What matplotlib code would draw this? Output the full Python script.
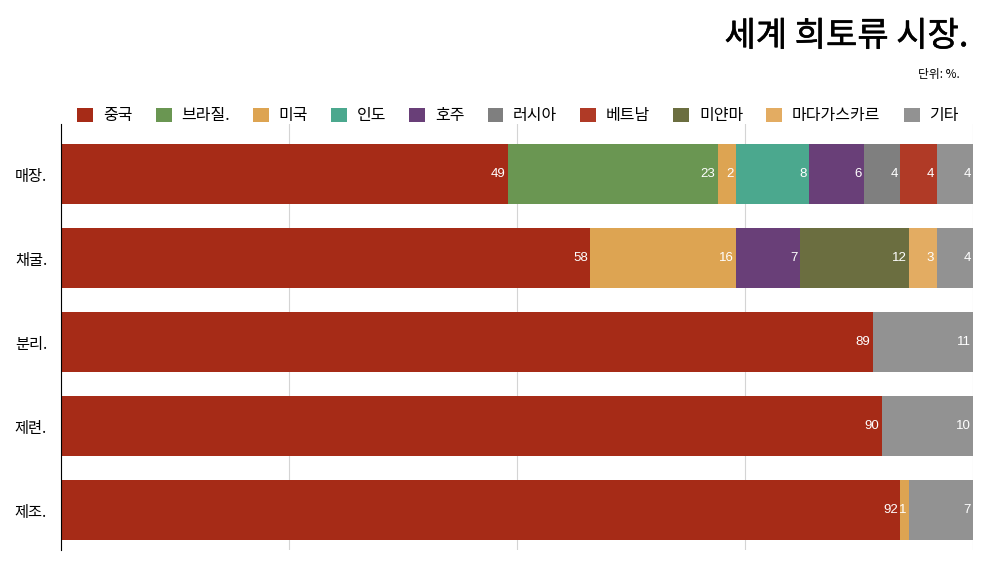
import matplotlib
matplotlib.use("Agg")
import matplotlib.pyplot as plt
import matplotlib.patheffects as pe
from matplotlib.patches import Patch

plt.rcParams['font.family'] = ['Noto Sans CJK KR', 'DejaVu Sans']

# ====== DATA ======
stages = ["매장.", "채굴.", "분리.", "제련.", "제조."]
countries = ["중국", "브라질.", "미국", "인도", "호주", "러시아", "베트남", "미얀마", "마다가스카르", "기타"]
colors = ["#A62B17", "#6A9652", "#DDA452", "#4BA88E", "#693F78",
          "#7F7F7F", "#B03A26", "#6B6E40", "#E3AC62", "#929292"]

# 단위: % (행 = 단계, 열 = 국가)
shares = {
    "중국":       [49, 58, 89, 90, 92],
    "브라질.":    [23, 0, 0, 0, 0],
    "미국":       [2, 16, 0, 0, 1],
    "인도":       [8, 0, 0, 0, 0],
    "호주":       [6, 7, 0, 0, 0],
    "러시아":     [4, 0, 0, 0, 0],
    "베트남":     [4, 0, 0, 0, 0],
    "미얀마":     [0, 12, 0, 0, 0],
    "마다가스카르": [0, 3, 0, 0, 0],
    "기타":       [4, 4, 11, 10, 7],
}

fig = plt.figure(figsize=(10, 5.63), dpi=100)
ax = fig.add_axes([0.061, 0.023, 0.912, 0.757])

ypos = list(range(len(stages)))
left = [0] * len(stages)
for name, col in zip(countries, colors):
    vals = shares[name]
    ax.barh(ypos, vals, left=left, height=0.714, color=col, zorder=2)
    for i, v in enumerate(vals):
        if v > 0:
            ax.text(left[i] + v - 0.25, i, str(v), ha="right", va="center",
                    color="white", fontsize=9.5, family="Liberation Sans", zorder=3)
    left = [a + b for a, b in zip(left, vals)]

ax.set_xlim(0, 100)
ax.set_ylim(4.476, -0.6)
ax.set_xticks([0, 25, 50, 75, 100])
ax.set_xticklabels([])
ax.tick_params(axis="x", length=0)
ax.tick_params(axis="y", length=0, labelsize=11, pad=10)
ax.set_yticks(ypos)
ax.set_yticklabels(stages)
ax.grid(axis="x", color="#D4D4D4", linewidth=0.8, zorder=0)
for s in ["top", "right", "bottom"]:
    ax.spines[s].set_visible(False)
ax.spines["left"].set_color("black")
ax.spines["left"].set_linewidth(0.8)

handles = [Patch(facecolor=c, label=n) for n, c in zip(countries, colors)]
fig.legend(handles=handles, loc="center", bbox_to_anchor=(0.518, 0.794), ncol=10,
           frameon=False, fontsize=11.5, handlelength=1.0, handleheight=1.0,
           handletextpad=0.6, columnspacing=1.45)

fig.text(0.968, 0.935, "세계 희토류 시장.", ha="right", va="center", fontsize=24.5,
         path_effects=[pe.withStroke(linewidth=0.4, foreground="black")])
fig.text(0.96, 0.868, "단위: %.", ha="right", va="center", fontsize=8.5)

fig.savefig("out.png", dpi=100)
